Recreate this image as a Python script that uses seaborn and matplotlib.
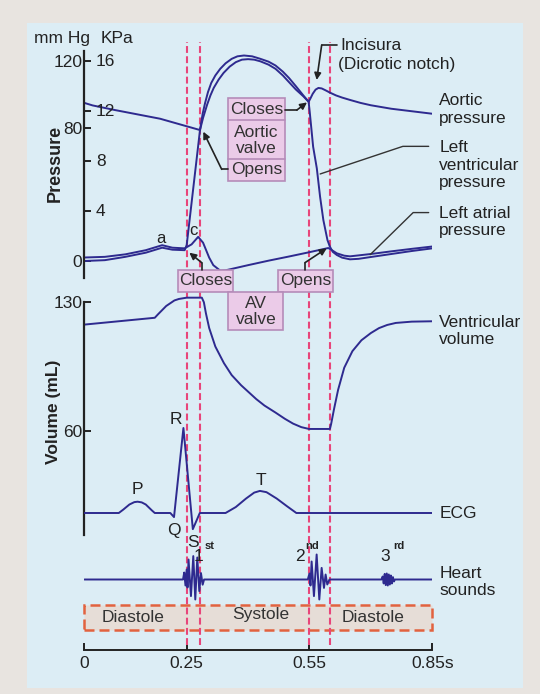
import matplotlib
matplotlib.use("Agg")
import matplotlib.pyplot as plt
from matplotlib.patches import Rectangle
import pandas as pd
import seaborn as sns

# ── Traces (time in seconds) ──────────────────────────────────────────
aortic_t = [0, 0.02, 0.075, 0.185, 0.2825, 0.29, 0.30, 0.308, 0.316, 0.328, 0.34,
            0.355, 0.37, 0.385, 0.40, 0.415, 0.43, 0.45, 0.467, 0.485, 0.50, 0.517,
            0.535, 0.548, 0.552, 0.558, 0.565, 0.572, 0.58, 0.59, 0.60, 0.615, 0.63,
            0.649, 0.675, 0.70, 0.75, 0.80, 0.85]
aortic_mmhg = [95, 93.5, 90.7, 85.5, 78.7, 86, 94, 99.5, 104, 109, 113,
               116.8, 119.5, 121, 121.3, 121, 120, 118, 115.5, 111.5, 107.5, 103,
               99, 95.7, 97.5, 100.5, 103, 104, 103.7, 102.5, 101.2, 99.5, 98.2,
               96.8, 95, 93.6, 91.5, 90, 88.5]

lv_t = [0, 0.05, 0.10, 0.15, 0.19, 0.215, 0.245, 0.25, 0.2825, 0.289, 0.295, 0.302,
        0.31, 0.32, 0.332, 0.345, 0.36, 0.374, 0.39, 0.41, 0.43, 0.45, 0.467, 0.485,
        0.50, 0.517, 0.535, 0.548, 0.551, 0.559, 0.568, 0.576, 0.584, 0.594, 0.60,
        0.607, 0.617, 0.63, 0.649, 0.67, 0.70, 0.75, 0.80, 0.85]
lv_mmhg = [0, 0.5, 2.5, 5, 8, 6.8, 6.5, 9.6, 78.7, 88.5, 95, 101.5,
           107, 111.5, 115.5, 118.8, 121.5, 123, 123.5, 123, 121.5, 119.8, 117.5, 113.8,
           110, 105, 99.5, 95.7, 88.8, 68.7, 55.7, 38.6, 24.6, 12.6, 8.6,
           5.5, 3.6, 2, 1, 1.3, 2.4, 4.2, 6, 7.6]

la_t = [0, 0.05, 0.10, 0.15, 0.19, 0.215, 0.245, 0.262, 0.278, 0.29, 0.305, 0.315,
        0.332, 0.345, 0.40, 0.45, 0.50, 0.55, 0.596, 0.605, 0.617, 0.635, 0.649,
        0.70, 0.75, 0.80, 0.85]
la_mmhg = [2.1, 2.5, 4, 6.5, 9.5, 8, 7.6, 10, 14.5, 11, 2, -2.5,
           -5.8, -5.6, -2.5, 0.2, 2.7, 5.3, 7.8, 6.5, 4.6, 3.2, 2.8,
           4.2, 5.8, 7.3, 8.7]

volume_t = [0, 0.172, 0.18, 0.20, 0.22, 0.231, 0.25, 0.287, 0.292, 0.297, 0.305,
            0.32, 0.341, 0.36, 0.383, 0.42, 0.44, 0.467, 0.49, 0.51, 0.53, 0.549,
            0.60, 0.603, 0.61, 0.62, 0.635, 0.655, 0.677, 0.70, 0.72, 0.74, 0.761,
            0.80, 0.85]
volume_ml = [117.9, 121.6, 123.5, 128, 131, 131.8, 132.5, 132.5, 130, 124, 116,
             106, 97, 90.5, 85, 77.5, 74, 70.2, 66.8, 64.2, 62.3, 61.3,
             61.3, 64, 72, 82.5, 94.5, 103.5, 109.4, 113.3, 116, 117.7, 118.8,
             119.5, 119.7]

ecg_t = [0, 0.084, 0.095, 0.11, 0.122, 0.13, 0.14, 0.15, 0.165, 0.172, 0.21, 0.219,
         0.242, 0.265, 0.282, 0.345, 0.37, 0.395, 0.415, 0.429, 0.445, 0.47, 0.495,
         0.518, 0.85]
ecg_mv = [0, 0, 0.04, 0.10, 0.128, 0.133, 0.125, 0.10, 0.03, 0, 0, -0.048,
          1.0, -0.19, 0, 0, 0.07, 0.17, 0.24, 0.26, 0.245, 0.17, 0.08,
          0, 0]

sound_t = [0,
           0.2410, 0.2440, 0.2470, 0.2500, 0.2520, 0.2545, 0.2604, 0.2661, 0.2710,
           0.2759, 0.2808, 0.2849, 0.2890, 0.2925,
           0.5460, 0.5500, 0.5525, 0.5553, 0.5610, 0.5676, 0.5741, 0.5798, 0.5855,
           0.5895, 0.5936, 0.5990,
           0.7260, 0.7290, 0.7315, 0.7340, 0.7365, 0.7390, 0.7415, 0.7440, 0.7465,
           0.7490, 0.7515, 0.7540, 0.7565, 0.7590,
           0.85]
sound_amp = [0,
             0, 0.35, -0.3, 0.5, -0.4, 1.0, -0.83, 1.17, -1.0,
             1.1, -0.58, 0.32, -0.26, 0,
             0, 0.3, -0.3, 0.9, -0.83, 1.25, -1.0, 0.58, -0.42,
             0.25, -0.25, 0,
             0, 0.15, -0.2, 0.28, -0.28, 0.3, -0.3, 0.25, -0.25,
             0.2, -0.2, 0.12, -0.1, 0,
             0]

valve_events = [0.25, 0.283, 0.548, 0.60]
time_ticks = [0, 0.25, 0.55, 0.85]
time_labels = ["0", "0.25", "0.55", "0.85s"]
mmhg_ticks = [0, 80, 120]
kpa_ticks = [4, 8, 12, 16]
volume_ticks = [60, 130]
phase_names = ["Diastole", "Systole", "Diastole"]
phase_mid = [0.12, 0.43, 0.706]

# ── Style ─────────────────────────────────────────────────────────────
sns.set_theme(style="white")
plt.rcParams["font.family"] = ["Liberation Sans", "DejaVu Sans"]
plt.rcParams["font.size"] = 12

INK = "#222222"
CURVE = "#2e2a8f"
DASH = "#e8457a"
BOX_FACE = "#ebcbe8"
BOX_EDGE = "#b58cb9"
PANEL = "#dcedf5"
OUTER = "#e8e4e0"
LABEL_T = 0.867        # time position of the right-hand trace names

W, H = 540, 694
X0, X1 = 84.4, 432.2   # pixel columns of t=0 and t=0.85

fig = plt.figure(figsize=(W / 100, H / 100), dpi=100)
fig.patch.set_facecolor(OUTER)
fig.add_artist(Rectangle((27 / W, 1 - 688 / H), 496 / W, 665 / H,
                         transform=fig.transFigure, facecolor=PANEL,
                         edgecolor="none", zorder=0))


def track(zero_px, px_per_unit, lo, hi):
    """Transparent axes whose y range [lo, hi] lands on the given pixel rows."""
    top = zero_px - hi * px_per_unit
    bot = zero_px - lo * px_per_unit
    ax = fig.add_axes([X0 / W, 1 - bot / H, (X1 - X0) / W, (bot - top) / H])
    ax.set_xlim(0, 0.85)
    ax.set_ylim(lo, hi)
    ax.patch.set_alpha(0)
    for s in ax.spines.values():
        s.set_visible(False)
    ax.set_xticks([])
    ax.set_yticks([])
    return ax


def trace(ax, t, v):
    df = pd.DataFrame({"t": t, "v": v})
    sns.lineplot(data=df, x="t", y="v", ax=ax, sort=False, estimator=None,
                 color=CURVE, lw=1.4)
    ax.set_xlabel("")
    ax.set_ylabel("")


def arrow(ax, pts, head=True, lw=1.2, color=INK):
    xs, ys = zip(*pts)
    n = len(pts) - 1 if head else len(pts)
    if n > 1:
        ax.plot(xs[:n], ys[:n], color=color, lw=lw, clip_on=False, zorder=6)
    if head:
        ax.annotate("", xy=pts[-1], xytext=pts[-2], annotation_clip=False, zorder=6,
                    arrowprops=dict(arrowstyle="-|>", color=color, lw=lw,
                                    mutation_scale=10, shrinkA=0, shrinkB=0))


def box(ax, x, y, w, h):
    ax.add_patch(Rectangle((x, y), w, h, facecolor=BOX_FACE, edgecolor=BOX_EDGE,
                           lw=1.2, clip_on=False, zorder=5))


def side_label(ax, y, text):
    ax.text(LABEL_T, y, text, ha="left", va="center", fontsize=12.5, color=INK)


# ── Phase bar + time axis ─────────────────────────────────────────────
ax_time = track(650, 52, 0, 1)
ax_time.add_patch(Rectangle((0, 0.385), 0.85, 0.48, facecolor="#e6ddd7",
                            edgecolor="#e2623f", lw=1.8, linestyle=(0, (4, 2)),
                            clip_on=False))
for name, tm in zip(phase_names, phase_mid):
    ax_time.text(tm, 0.68 if name == "Systole" else 0.62, name, ha="center",
                 va="center", fontsize=12.5, color="#333333")
ax_time.spines["bottom"].set_visible(True)
ax_time.spines["bottom"].set_color(INK)
ax_time.spines["bottom"].set_linewidth(1.4)
ax_time.spines["bottom"].set_bounds(0, 0.85)
ax_time.set_xticks(time_ticks)
ax_time.set_xticklabels(time_labels)
ax_time.tick_params(axis="x", direction="in", length=5, width=1.4, pad=4,
                    labelsize=12.5, colors=INK, bottom=True)

# ── Valve event lines ─────────────────────────────────────────────────
ax_ev = track(645, 603, 0, 1)
for tv in valve_events:
    ax_ev.axvline(tv, color=DASH, lw=1.5, linestyle=(0, (3.3, 1.6)))

# ── Pressure ──────────────────────────────────────────────────────────
ax_p = track(261, 1.664, -45, 135)
trace(ax_p, la_t, la_mmhg)
trace(ax_p, lv_t, lv_mmhg)
trace(ax_p, aortic_t, aortic_mmhg)
ax_p.spines["left"].set_visible(True)
ax_p.spines["left"].set_color(INK)
ax_p.spines["left"].set_linewidth(1.6)
ax_p.spines["left"].set_bounds(-10, 126)
ax_p.set_yticks(mmhg_ticks)
ax_p.set_yticks([k * 7.5 for k in kpa_ticks[:-1]], minor=True)
ax_p.tick_params(axis="y", which="both", direction="in", length=5, width=1.4,
                 pad=1.5, labelsize=12.5, colors=INK, left=True)
for k in kpa_ticks:
    ax_p.text(0.0283, k * 7.5, str(k), ha="left", va="center", fontsize=12.5, color=INK)
ax_p.text(0.0137, 133.9, "mm Hg", ha="right", va="center", fontsize=12.5, color=INK)
ax_p.text(0.0406, 133.9, "KPa", ha="left", va="center", fontsize=12.5, color=INK)
ax_p.text(-0.0718, 58.6, "Pressure", rotation=90, ha="center", va="center",
          fontsize=13, fontweight="bold", color=INK)
ax_p.text(0.187, 13.8, "a", ha="center", va="center", fontsize=12, color=INK)
ax_p.text(0.267, 18.5, "c", ha="center", va="center", fontsize=12, color=INK)

# aortic valve box
box(ax_p, 0.3517, 48.1, 0.1385, 49.7)
ax_p.plot([0.3517, 0.4902], [84.7, 84.7], color=BOX_EDGE, lw=1.2, zorder=5, clip_on=False)
ax_p.plot([0.3517, 0.4902], [61.1, 61.1], color=BOX_EDGE, lw=1.2, zorder=5, clip_on=False)
ax_p.text(0.421, 90.9, "Closes", ha="center", va="center", fontsize=12.5, color="#333333", zorder=7)
ax_p.text(0.421, 72.4, "Aortic\nvalve", ha="center", va="center", fontsize=12.5,
          linespacing=1.05, color="#333333", zorder=7)
ax_p.text(0.421, 55.1, "Opens", ha="center", va="center", fontsize=12.5, color="#333333", zorder=7)
arrow(ax_p, [(0.4902, 90.7), (0.5191, 90.7), (0.5440, 95.3)])
arrow(ax_p, [(0.3517, 55.1), (0.3355, 55.1), (0.2906, 77.7)])

# AV valve boxes
box(ax_p, 0.2295, -18.4, 0.1344, 13.0)
box(ax_p, 0.4738, -18.4, 0.1345, 13.0)
box(ax_p, 0.3517, -41.5, 0.1344, 23.1)
ax_p.text(0.2967, -11.9, "Closes", ha="center", va="center", fontsize=12.5, color="#333333", zorder=7)
ax_p.text(0.5408, -11.9, "Opens", ha="center", va="center", fontsize=12.5, color="#333333", zorder=7)
ax_p.text(0.419, -30.3, "AV\nvalve", ha="center", va="center", fontsize=12.5,
          linespacing=1.15, color="#333333", zorder=7)
arrow(ax_p, [(0.2867, -5.4), (0.2867, -1.0), (0.2564, 5.0)])
arrow(ax_p, [(0.5391, -5.4), (0.5391, -1.0), (0.5921, 7.6)])

# incisura
arrow(ax_p, [(0.6173, 129.8), (0.5799, 129.8), (0.5677, 108.8)])
ax_p.text(0.6246, 129.8, "Incisura", ha="left", va="center", fontsize=12.5, color=INK)
ax_p.text(0.6203, 117.8, "(Dicrotic notch)", ha="left", va="center", fontsize=12.5, color=INK)

# right-hand labels and leaders
side_label(ax_p, 91.1, "Aortic\npressure")
side_label(ax_p, 57.5, "Left\nventricular\npressure")
side_label(ax_p, 23.4, "Left atrial\npressure")
arrow(ax_p, [(0.8414, 68.9), (0.7783, 68.9), (0.5762, 52.3)], head=False, lw=1.0, color="#333333")
arrow(ax_p, [(0.8414, 29.1), (0.8035, 29.1), (0.6984, 3.8)], head=False, lw=1.0, color="#333333")

# ── Volume ────────────────────────────────────────────────────────────
ax_v = track(542.0, 1.844, 0, 140)
trace(ax_v, volume_t, volume_ml)
ax_v.spines["left"].set_visible(True)
ax_v.spines["left"].set_color(INK)
ax_v.spines["left"].set_linewidth(1.6)
ax_v.spines["left"].set_bounds(4, 130)
ax_v.set_yticks(volume_ticks)
ax_v.tick_params(axis="y", direction="in", length=5, width=1.4, pad=1.5,
                 labelsize=12.5, colors=INK, left=True)
ax_v.text(-0.0758, 70.5, "Volume (mL)", rotation=90, ha="center", va="center",
          fontsize=12.5, fontweight="bold", color=INK)
side_label(ax_v, 114.5, "Ventricular\nvolume")

# ── ECG ───────────────────────────────────────────────────────────────
ax_e = track(513, 85, -0.5, 1.2)
trace(ax_e, ecg_t, ecg_mv)
for lab, tx, ty in [("P", 0.13, 0.275), ("T", 0.431, 0.385), ("Q", 0.219, -0.21),
                    ("S", 0.265, -0.345), ("R", 0.223, 1.10)]:
    ax_e.text(tx, ty, lab, ha="center", va="center", fontsize=12.5, color=INK)
side_label(ax_e, 0, "ECG")

# ── Heart sounds ──────────────────────────────────────────────────────
ax_s = track(579.5, 20, -1.6, 1.6)
trace(ax_s, sound_t, sound_amp)
for num, sup, tn, ts in [("1", "st", 0.2784, 0.2935), ("2", "nd", 0.5269, 0.5390),
                         ("3", "rd", 0.7346, 0.7540)]:
    ax_s.text(tn, 1.14, num, ha="center", va="center", fontsize=12.5, color=INK)
    ax_s.text(ts, 1.68, sup, ha="left", va="center", fontsize=8, fontweight="bold", color=INK)
side_label(ax_s, -0.11, "Heart\nsounds")

fig.savefig("out.png", dpi=100, facecolor=fig.get_facecolor())
